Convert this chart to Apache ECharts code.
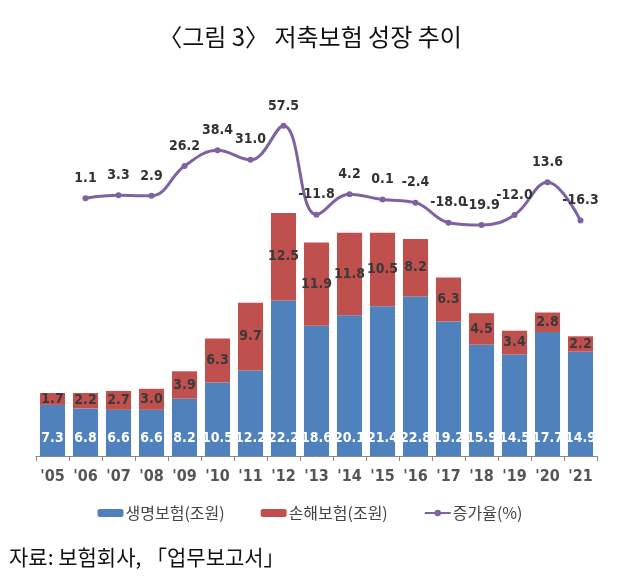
<!DOCTYPE html>
<html><head><meta charset="utf-8">
<script src="https://cdn.jsdelivr.net/npm/echarts@6/dist/echarts.min.js"></script>
<style>html,body{margin:0;padding:0;background:#fff}#c{width:620px;height:583px}</style>
</head><body><div id="c"></div>
<script>
var categories = ["'05","'06","'07","'08","'09","'10","'11","'12","'13","'14","'15","'16","'17","'18","'19","'20","'21"];
var lifeInsurance = [7.3,6.8,6.6,6.6,8.2,10.5,12.2,22.2,18.6,20.1,21.4,22.8,19.2,15.9,14.5,17.7,14.9];
var nonLifeInsurance = [1.7,2.2,2.7,3.0,3.9,6.3,9.7,12.5,11.9,11.8,10.5,8.2,6.3,4.5,3.4,2.8,2.2];
var growthRate = [null,1.1,3.3,2.9,26.2,38.4,31.0,57.5,-11.8,4.2,0.1,-2.4,-18.0,-19.9,-12.0,13.6,-16.3];
var seriesNames = ['생명보험(조원)','손해보험(조원)','증가율(%)'];
var titleText = '〈그림 3〉 저축보험 성장 추이';
var sourceText = '자료: 보험회사, 「업무보고서」';

var numFont = "'Liberation Sans Narrow','DejaVu Sans Condensed',sans-serif";
var krFont = "'Noto Sans CJK KR','Noto Sans',sans-serif";
function fmt(p){ return (typeof p.value === 'number') ? p.value.toFixed(1) : ''; }
var chart = echarts.init(document.getElementById('c'), null, {renderer:'canvas'});
chart.setOption({
  animation:false,
  backgroundColor:'#fff',
  title:[
    {text:titleText,left:'center',top:20,textStyle:{fontFamily:krFont,fontSize:24,fontWeight:'normal',color:'#111'}},
    {text:sourceText,left:4,top:542,textStyle:{fontFamily:krFont,fontSize:21,fontWeight:'normal',color:'#111'}}
  ],
  legend:{
    data:seriesNames, left:'center', top:500, itemGap:36, itemWidth:26, itemHeight:8,
    textStyle:{fontFamily:krFont,fontSize:16,color:'#444',padding:[0,0,0,-3]}
  },
  grid:{left:36,right:23,top:106,bottom:127},
  xAxis:{
    type:'category', data:categories,
    axisLine:{lineStyle:{color:'#888',width:1}},
    axisTick:{show:true,length:5,lineStyle:{color:'#888'}},
    axisLabel:{fontFamily:numFont,fontSize:16,fontWeight:'bold',color:'#555',margin:13}
  },
  yAxis:[
    {type:'value',min:0,max:50,show:false,splitLine:{show:false}},
    {type:'value',min:-200,max:73,show:false,splitLine:{show:false}}
  ],
  series:[
    {name:seriesNames[0],type:'bar',stack:'t',data:lifeInsurance,barCategoryGap:'24%',
     itemStyle:{color:'#4F81BD'},
     label:{show:true,position:'insideBottom',distance:11,fontFamily:numFont,fontSize:14,fontWeight:'bold',color:'#fff',formatter:fmt}},
    {name:seriesNames[1],type:'bar',stack:'t',data:nonLifeInsurance,
     itemStyle:{color:'#C0504D'},
     label:{show:true,position:'inside',fontFamily:numFont,fontSize:14,fontWeight:'bold',color:'#3a3a3a',formatter:fmt}},
    {name:seriesNames[2],type:'line',yAxisIndex:1,data:growthRate,smooth:0.4,
     symbol:'circle',symbolSize:6,
     lineStyle:{color:'#7F63A1',width:3},itemStyle:{color:'#7F63A1'},
     label:{show:true,position:'top',distance:10,fontFamily:numFont,fontSize:14,fontWeight:'bold',color:'#333',formatter:fmt}}
  ]
});
</script></body></html>
